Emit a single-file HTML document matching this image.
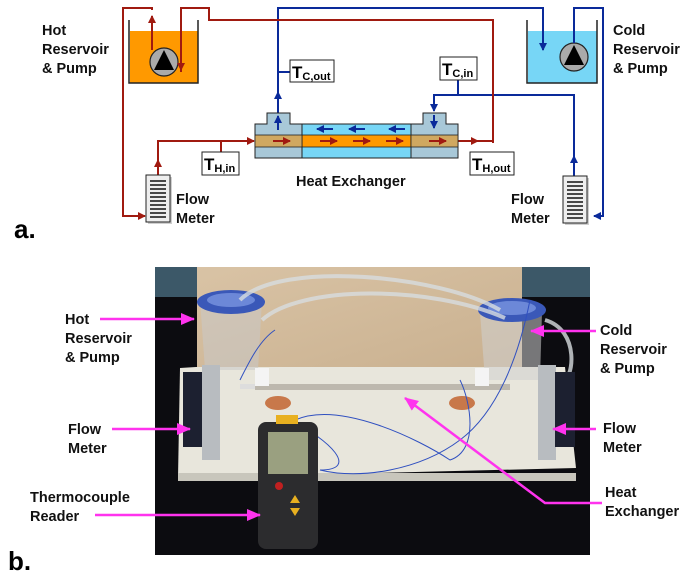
<!DOCTYPE html>
<html><head><meta charset="utf-8"><style>
html,body{margin:0;padding:0;background:#fff;width:700px;height:577px;overflow:hidden}
svg{display:block}
text{font-family:"Liberation Sans",sans-serif;font-weight:bold}
</style></head><body>
<svg width="700" height="577" viewBox="0 0 700 577" xmlns="http://www.w3.org/2000/svg">
<defs>
<marker id="ar" markerWidth="8" markerHeight="8" refX="7" refY="4" orient="auto" markerUnits="userSpaceOnUse"><path d="M0,0 L8,4 L0,8 z" fill="#a01a10"/></marker>
<marker id="ab" markerWidth="8" markerHeight="8" refX="7" refY="4" orient="auto" markerUnits="userSpaceOnUse"><path d="M0,0 L8,4 L0,8 z" fill="#0a2a9a"/></marker>
<marker id="am" markerWidth="14" markerHeight="12" refX="13" refY="6" orient="auto" markerUnits="userSpaceOnUse"><path d="M0,0 L14,6 L0,12 z" fill="#ff33ee"/></marker>
<linearGradient id="wood" x1="0" y1="0" x2="1" y2="1"><stop offset="0" stop-color="#d9c3a5"/><stop offset="1" stop-color="#c9b08f"/></linearGradient>
</defs>

<!-- Part a -->
<!-- hot reservoir -->
<rect x="130" y="31" width="68" height="52" fill="#ff9900"/>
<path d="M129,20 V83 H198 V20" fill="none" stroke="#222" stroke-width="1.5"/>
<!-- cold reservoir -->
<rect x="528" y="31" width="69" height="52" fill="#77d6f6"/>
<path d="M527,20 V83 H597 V20" fill="none" stroke="#222" stroke-width="1.5"/>
<!-- pumps -->
<circle cx="164" cy="62" r="14" fill="#aaa" stroke="#222" stroke-width="1.2"/>
<path d="M164,50 L174,70 L154,70 z" fill="#000"/>
<circle cx="574" cy="57" r="14" fill="#aaa" stroke="#222" stroke-width="1.2"/>
<path d="M574,45 L584,65 L564,65 z" fill="#000"/>

<!-- blue lines -->
<g fill="none" stroke="#0a2a9a" stroke-width="2">
<path d="M278,113 V8 H543 V50" marker-end="url(#ab)"/>
<path d="M278,113 V92" marker-end="url(#ab)"/>
<path d="M278,72 H290"/>
<path d="M574,43 V8 H603 V216 H594" marker-end="url(#ab)"/>
<path d="M574,176 V156" marker-end="url(#ab)"/>
<path d="M574,176 V95 H434 V111" marker-end="url(#ab)"/>
<path d="M458,80 V95"/>
</g>
<!-- red lines -->
<g fill="none" stroke="#a01a10" stroke-width="2">
<path d="M152,50 V16" marker-end="url(#ar)"/>
<path d="M152,10 V8 H123 V216 H145" marker-end="url(#ar)"/>
<path d="M181,72 V8 H209 V20 H493 V143"/>
<path d="M181,45 V70" marker-end="url(#ar)"/>
<path d="M158,175 V141 H254" marker-end="url(#ar)"/>
<path d="M158,175 V160" marker-end="url(#ar)"/>
<path d="M221,141 V152"/>
<path d="M458,141 H493"/>
<path d="M458,141 H478" marker-end="url(#ar)"/>
</g>

<!-- heat exchanger -->
<rect x="302" y="124" width="109" height="34" fill="#77d6f6" stroke="#222" stroke-width="1"/>
<rect x="302" y="135" width="109" height="12" fill="#ff9900" stroke="#222" stroke-width="0.8"/>
<path d="M255,124 H267 V113 H290 V124 H302 V158 H255 z" fill="#a8c8d8" stroke="#222" stroke-width="1"/>
<rect x="255" y="135" width="47" height="12" fill="#d0a860" stroke="#222" stroke-width="0.8"/>
<path d="M411,124 H423 V113 H446 V124 H458 V158 H411 z" fill="#a8c8d8" stroke="#222" stroke-width="1"/>
<rect x="411" y="135" width="47" height="12" fill="#d0a860" stroke="#222" stroke-width="0.8"/>
<g stroke="#a01a10" stroke-width="2" marker-end="url(#ar)">
<path d="M273,141 H290"/><path d="M320,141 H337"/><path d="M353,141 H370"/><path d="M386,141 H403"/><path d="M429,141 H446"/>
</g>
<g stroke="#0a2a9a" stroke-width="2" marker-end="url(#ab)">
<path d="M333,129 H317"/><path d="M365,129 H349"/><path d="M405,129 H389"/>
<path d="M278,130 V116"/><path d="M434,115 V128"/>
</g>

<!-- flow meters -->
<rect x="148" y="177" width="24" height="47" fill="#888" opacity="0.4"/>
<rect x="146" y="175" width="24" height="47" fill="#eee" stroke="#222" stroke-width="1"/>
<g stroke="#111" stroke-width="1.6">
<path d="M150,181H166M150,185H166M150,189H166M150,193H166M150,197H166M150,201H166M150,205H166M150,209H166M150,213H166M150,217H166"/>
</g>
<rect x="565" y="178" width="24" height="47" fill="#888" opacity="0.4"/>
<rect x="563" y="176" width="24" height="47" fill="#eee" stroke="#222" stroke-width="1"/>
<g stroke="#111" stroke-width="1.6">
<path d="M567,182H583M567,186H583M567,190H583M567,194H583M567,198H583M567,202H583M567,206H583M567,210H583M567,214H583M567,218H583"/>
</g>

<!-- T boxes -->
<g fill="#fff" stroke="#222" stroke-width="1">
<rect x="290" y="60" width="44" height="22"/>
<rect x="440" y="57" width="37" height="23"/>
<rect x="202" y="152" width="37" height="23"/>
<rect x="470" y="152" width="44" height="23"/>
</g>
<g fill="#000">
<text x="292" y="78" font-size="17">T<tspan font-size="11" dy="2">C,out</tspan></text>
<text x="442" y="75" font-size="17">T<tspan font-size="11" dy="2">C,in</tspan></text>
<text x="204" y="170" font-size="17">T<tspan font-size="11" dy="2">H,in</tspan></text>
<text x="472" y="170" font-size="17">T<tspan font-size="11" dy="2">H,out</tspan></text>
</g>

<g fill="#111" font-size="14.5">
<text x="42" y="35">Hot</text><text x="42" y="54">Reservoir</text><text x="42" y="73">&amp; Pump</text>
<text x="613" y="35">Cold</text><text x="613" y="54">Reservoir</text><text x="613" y="73">&amp; Pump</text>
<text x="296" y="186">Heat Exchanger</text>
<text x="176" y="204">Flow</text><text x="176" y="223">Meter</text>
<text x="511" y="204">Flow</text><text x="511" y="223">Meter</text>
</g>
<text x="14" y="238" font-size="26" fill="#000">a.</text>

<!-- Part b photo -->
<rect x="155" y="267" width="435" height="288" fill="#0c0c10"/>
<rect x="155" y="267" width="435" height="30" fill="#3c5868"/>
<rect x="197" y="267" width="325" height="105" fill="url(#wood)"/>
<path d="M180,368 L196,367 L565,367 L576,468 L178,478 z" fill="#e8e6dc"/>
<rect x="178" y="473" width="398" height="8" fill="#c8c6bc"/>
<!-- reservoirs -->
<path d="M200,300 L262,300 L258,370 L205,370 z" fill="#c8c8c8" opacity="0.55"/>
<ellipse cx="231" cy="302" rx="34" ry="12" fill="#3a58b8"/>
<ellipse cx="231" cy="300" rx="24" ry="7" fill="#6c88d8"/>
<path d="M480,312 L542,312 L540,380 L485,380 z" fill="#d0d0d0" opacity="0.55"/>
<ellipse cx="512" cy="310" rx="34" ry="12" fill="#3a58b8"/>
<ellipse cx="512" cy="308" rx="24" ry="7" fill="#6c88d8"/>
<!-- tubes -->
<g fill="none" stroke="#d8dde0" stroke-width="4" opacity="0.8">
<path d="M240,300 C280,260 440,275 500,310"/>
<path d="M262,320 C300,285 430,285 505,318"/>
<path d="M545,320 C580,330 575,380 560,385"/>
</g>
<!-- heat exchanger tube -->
<rect x="240" y="384" width="120" height="5" fill="#ddd"/>
<rect x="255" y="384" width="255" height="6" fill="#bdb8ae"/>
<rect x="255" y="368" width="14" height="18" fill="#f4f4f4"/>
<rect x="475" y="368" width="14" height="18" fill="#f4f4f4"/>
<ellipse cx="278" cy="403" rx="13" ry="7" fill="#c8784a"/>
<ellipse cx="462" cy="403" rx="13" ry="7" fill="#c8784a"/>
<!-- flow meters in photo -->
<rect x="183" y="372" width="20" height="75" fill="#1c2030"/>
<rect x="202" y="365" width="18" height="95" fill="#b8bcc0"/>
<rect x="538" y="365" width="18" height="95" fill="#b8bcc0"/>
<rect x="555" y="372" width="20" height="75" fill="#1c2030"/>
<!-- wires -->
<g fill="none" stroke="#3050c0" stroke-width="1">
<path d="M290,420 C330,440 360,470 320,470 C360,480 420,470 460,440 C500,410 520,350 530,300"/>
<path d="M295,420 C340,400 420,440 450,460 C480,450 470,400 460,380"/>
<path d="M240,380 C250,360 260,340 275,330"/>
</g>
<!-- thermocouple reader -->
<rect x="258" y="422" width="60" height="127" rx="8" fill="#2c2c2e"/>
<rect x="268" y="432" width="40" height="42" fill="#9aa080"/>
<rect x="276" y="415" width="22" height="9" fill="#e8b020"/>
<circle cx="279" cy="486" r="4" fill="#c02020"/>
<path d="M295,495 L300,503 L290,503 z M290,508 L300,508 L295,516 z" fill="#e8b020"/>

<!-- magenta arrows -->
<g fill="none" stroke="#ff33ee" stroke-width="2.5">
<path d="M100,319 H194" marker-end="url(#am)"/>
<path d="M112,429 H190" marker-end="url(#am)"/>
<path d="M95,515 H260" marker-end="url(#am)"/>
<path d="M596,331 H531" marker-end="url(#am)"/>
<path d="M596,429 H553" marker-end="url(#am)"/>
<path d="M602,503 H545 L405,398" marker-end="url(#am)"/>
</g>

<g fill="#111" font-size="14.5">
<text x="65" y="324">Hot</text><text x="65" y="343">Reservoir</text><text x="65" y="362">&amp; Pump</text>
<text x="68" y="434">Flow</text><text x="68" y="453">Meter</text>
<text x="30" y="502">Thermocouple</text><text x="30" y="521">Reader</text>
<text x="600" y="335">Cold</text><text x="600" y="354">Reservoir</text><text x="600" y="373">&amp; Pump</text>
<text x="603" y="433">Flow</text><text x="603" y="452">Meter</text>
<text x="605" y="497">Heat</text><text x="605" y="516">Exchanger</text>
</g>
<text x="8" y="570" font-size="26" fill="#000">b.</text>
</svg>
</body></html>
